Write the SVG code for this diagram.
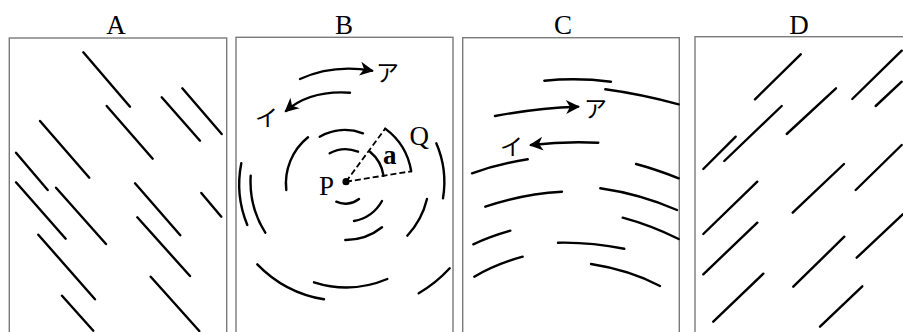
<svg xmlns="http://www.w3.org/2000/svg" width="903" height="332" viewBox="0 0 903 332">
<style>
.box{fill:none;stroke:#7a7a7a;stroke-width:1.4}
.ln{fill:none;stroke:#000;stroke-width:2.4;stroke-linecap:round}
.dash{fill:none;stroke:#000;stroke-width:1.8;stroke-dasharray:6 3}
.ttl{font-family:"Liberation Serif",serif;font-size:27px;text-anchor:middle;fill:#000}
.lbl{font-family:"Liberation Serif",serif;font-size:27px;fill:#000}
.jp{font-family:"Noto Sans CJK JP",sans-serif;font-size:23px;fill:#000}
</style>
<defs>
<marker id="ah" viewBox="-14 -8 17 16" refX="0" refY="0" markerWidth="17" markerHeight="16" markerUnits="userSpaceOnUse" orient="auto">
<path d="M2,0 L-12,-7 L-8,0 L-12,7 Z" fill="#000"/>
</marker>
</defs>
<rect width="903" height="332" fill="#fff"/>

<g id="panelA">
<rect class="box" x="9.3" y="38" width="217.4" height="310"/>
<text class="ttl" x="116" y="33.5">A</text>
<g id="linesA">
<line class="ln" x1="83.3" y1="52.3" x2="130" y2="106.7"/>
<line class="ln" x1="106.7" y1="106" x2="152.7" y2="158.7"/>
<line class="ln" x1="161.7" y1="97.3" x2="200" y2="140.7"/>
<line class="ln" x1="182.3" y1="88.3" x2="221.7" y2="134"/>
<line class="ln" x1="40" y1="121" x2="89.3" y2="177.7"/>
<line class="ln" x1="16" y1="152.7" x2="47.7" y2="190"/>
<line class="ln" x1="16" y1="182.3" x2="65.7" y2="238.7"/>
<line class="ln" x1="56" y1="187.7" x2="106" y2="244"/>
<line class="ln" x1="135" y1="183.3" x2="180.3" y2="235.3"/>
<line class="ln" x1="201.3" y1="193" x2="221.3" y2="216.7"/>
<line class="ln" x1="137.3" y1="217.3" x2="190" y2="276"/>
<line class="ln" x1="38.3" y1="234.7" x2="95" y2="299.3"/>
<line class="ln" x1="150.7" y1="276.7" x2="199.3" y2="331"/>
<line class="ln" x1="62" y1="295.7" x2="93.3" y2="330.7"/>
</g>
</g>

<g id="panelB">
<rect class="box" x="236" y="37.3" width="217" height="310"/>
<text class="ttl" x="344" y="33.5">B</text>
<g id="arcsB">
<path class="ln" d="M319.7,136.7 A51,51 0 0 1 363,133.3"/>
<path class="ln" d="M329.7,153.3 A33,33 0 0 1 358,151.7"/>
<path class="ln" d="M286.3,190 A59,59 0 0 1 308,137.3"/>
<path class="ln" d="M247.3,225 A107,107 0 0 1 241.3,163.3"/>
<path class="ln" d="M265.3,232.7 A95.5,95.5 0 0 1 250.7,175.7"/>
<path class="ln" d="M436.3,143.3 A98,98 0 0 1 443,198.3"/>
<path class="ln" d="M359,199 A22,22 0 0 1 336.3,201.7"/>
<path class="ln" d="M382,201 A40.5,40.5 0 0 1 354,221"/>
<path class="ln" d="M382,227.3 A58,58 0 0 1 345.3,240"/>
<path class="ln" d="M427,199 A82,82 0 0 1 407.3,235.7"/>
<path class="ln" d="M324,299.3 A120,120 0 0 1 257.3,264.3"/>
<path class="ln" d="M387.3,279 A106,106 0 0 1 314,282.3"/>
<path class="ln" d="M449.7,268.3 A134,134 0 0 1 418.7,293.3"/>
</g>
<g id="sectorB">
<line class="dash" x1="346" y1="181.7" x2="385.2" y2="128.6"/>
<line class="dash" x1="346" y1="181.7" x2="411.2" y2="171.3"/>
<path class="ln" d="M385.2,128.6 A66,66 0 0 1 411.2,171.3" stroke-width="2"/>
<path class="ln" d="M370,151.8 A38,38 0 0 1 383.5,175.7" stroke-width="1.8"/>
<circle cx="346" cy="181.7" r="3.6" fill="#000"/>
<text class="lbl" x="319" y="195">P</text>
<text class="lbl" x="409.5" y="145">Q</text>
<text class="lbl" x="383" y="163.5" font-weight="bold" font-size="26px">a</text>
</g>
<g id="arrowsB">
<path class="ln" d="M300,79 Q333,64 372,70.7" marker-end="url(#ah)"/>
<path class="ln" d="M350,92.7 Q310,90 286,111" marker-end="url(#ah)"/>
<text class="jp" x="376" y="81">ア</text>
<text class="jp" x="255" y="126">イ</text>
</g>
</g>

<g id="panelC">
<rect class="box" x="462.7" y="37.7" width="216.6" height="310"/>
<text class="ttl" x="563" y="33.5">C</text>
<g id="linesC">
<path class="ln" d="M544.3,80.7 Q577.7,77.5 611,81.7"/>
<path class="ln" d="M605.3,89.3 Q640,94 678.7,104.3"/>
<path class="ln" d="M472,173.3 Q498,164 527.7,159.3"/>
<path class="ln" d="M636,164 Q655,169 678.7,178.3"/>
<path class="ln" d="M485.3,206.7 Q522,194 562,191.7"/>
<path class="ln" d="M600.3,188.3 Q640,194 677,210"/>
<path class="ln" d="M622.7,217.7 Q650,225 678.7,239"/>
<path class="ln" d="M473.3,244.3 Q490,236.5 510.3,230.7"/>
<path class="ln" d="M558,242.7 Q590,242 624.3,248.7"/>
<path class="ln" d="M474.3,276.7 Q496,264 522.7,256.7"/>
<path class="ln" d="M591,264 Q630,270 660,286"/>
</g>
<g id="arrowsC">
<path class="ln" d="M495,116 Q537,108 578,106.7" marker-end="url(#ah)"/>
<path class="ln" d="M598.3,142.7 Q565,141 531,145" marker-end="url(#ah)"/>
<text class="jp" x="584" y="117">ア</text>
<text class="jp" x="500" y="155">イ</text>
</g>
</g>

<g id="panelD">
<rect class="box" x="695" y="36.7" width="230" height="310"/>
<text class="ttl" x="799" y="33.5">D</text>
<g id="linesD">
<line class="ln" x1="755" y1="99.3" x2="800.7" y2="54.3"/>
<line class="ln" x1="852.3" y1="99" x2="901.7" y2="50.7"/>
<line class="ln" x1="875.7" y1="106" x2="901.7" y2="81.7"/>
<line class="ln" x1="786.7" y1="134" x2="836" y2="88.3"/>
<line class="ln" x1="724.3" y1="161" x2="781.7" y2="106"/>
<line class="ln" x1="703.3" y1="169" x2="735.7" y2="136.7"/>
<line class="ln" x1="855.7" y1="190" x2="901.7" y2="145"/>
<line class="ln" x1="792.7" y1="212.7" x2="844" y2="164"/>
<line class="ln" x1="703.3" y1="234" x2="757.3" y2="181.7"/>
<line class="ln" x1="703.3" y1="274.3" x2="757.3" y2="222.7"/>
<line class="ln" x1="856.7" y1="257.7" x2="902.7" y2="214.3"/>
<line class="ln" x1="793.3" y1="286.7" x2="844.3" y2="236.7"/>
<line class="ln" x1="713.3" y1="321.7" x2="763.3" y2="273.7"/>
<line class="ln" x1="820" y1="326.7" x2="862.3" y2="286.3"/>
</g>
</g>
</svg>
